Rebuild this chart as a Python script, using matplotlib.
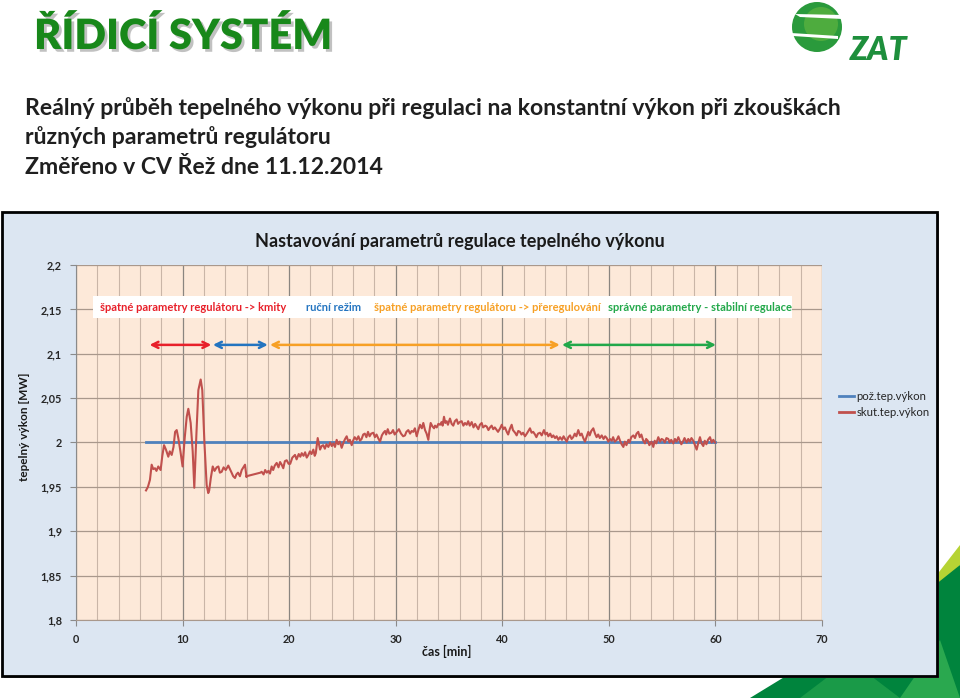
import matplotlib
matplotlib.use('Agg')
import matplotlib.pyplot as plt
import matplotlib.patheffects as pe
from matplotlib.patches import Rectangle, Circle, Polygon
from matplotlib.lines import Line2D
from matplotlib.ticker import FuncFormatter, MultipleLocator

plt.rcParams['font.family'] = ['Lato', 'DejaVu Sans']

# ---- data ----
# measured heat output [MW] vs time [min], split by test phase
osc_phase = [(6.57, 1.946), (6.75, 1.950), (6.94, 1.958), (7.1, 1.975), (7.25, 1.970),
             (7.41, 1.971), (7.55, 1.968), (7.72, 1.973), (7.94, 1.969), (8.1, 1.985),
             (8.26, 1.997), (8.44, 1.992), (8.66, 1.984), (8.8, 1.990), (8.98, 1.986),
             (9.15, 1.995), (9.3, 2.012), (9.45, 2.014), (9.6, 2.005), (9.8, 1.990),
             (10.0, 1.973), (10.2, 2.005), (10.39, 2.029), (10.54, 2.038), (10.76, 2.022),
             (10.95, 1.990), (11.1, 1.949), (11.3, 2.010), (11.48, 2.059), (11.7, 2.071),
             (11.85, 2.059), (12.05, 2.000), (12.26, 1.952), (12.41, 1.943), (12.5, 1.946),
             (12.65, 1.960), (12.83, 1.973), (13.0, 1.968), (13.2, 1.972), (13.36, 1.973),
             (13.5, 1.966), (13.67, 1.967), (13.85, 1.972), (14.05, 1.969), (14.29, 1.974),
             (14.45, 1.970), (14.6, 1.966), (14.75, 1.962), (14.92, 1.960), (15.05, 1.964),
             (15.2, 1.966), (15.38, 1.962), (15.55, 1.969), (15.7, 1.972), (15.86, 1.975),
             (16.0, 1.961)]
manual_phase = [(16.0, 1.962), (17.3, 1.966)]
overshoot_phase = [(17.42, 1.967), (17.6, 1.964), (17.75, 1.969), (17.9, 1.966), (18.05, 1.968),
                   (18.2, 1.965), (18.36, 1.973), (18.5, 1.969), (18.65, 1.974), (18.83, 1.977),
                   (19.0, 1.972), (19.15, 1.978), (19.3, 1.975), (19.45, 1.971), (19.6, 1.979),
                   (19.77, 1.980), (19.95, 1.976), (20.1, 1.976), (20.3, 1.983), (20.55, 1.986),
                   (20.7, 1.981), (20.9, 1.987), (21.05, 1.984), (21.18, 1.988), (21.35, 1.985),
                   (21.5, 1.989), (21.65, 1.983), (21.8, 1.986), (21.95, 1.990), (22.1, 1.987),
                   (22.27, 1.992), (22.4, 1.985), (22.5, 1.988), (22.68, 2.005), (22.8, 1.998),
                   (22.9, 1.992), (23.05, 1.996), (23.2, 1.997), (23.35, 1.993), (23.5, 1.998),
                   (23.68, 1.995), (23.85, 2.000), (24.0, 1.996), (24.15, 1.999), (24.3, 1.995),
                   (24.46, 2.003), (24.6, 1.998), (24.75, 2.001), (24.93, 1.994), (25.1, 2.000),
                   (25.25, 2.004), (25.4, 2.007), (25.55, 2.001), (25.7, 2.003), (25.87, 1.997),
                   (26.0, 2.002), (26.15, 2.006), (26.34, 2.003), (26.5, 2.007), (26.65, 2.002),
                   (26.8, 2.004), (26.95, 2.009), (27.1, 2.010), (27.25, 2.006), (27.4, 2.012),
                   (27.55, 2.007), (27.7, 2.010), (27.9, 2.011), (28.05, 2.006), (28.2, 2.009),
                   (28.35, 2.005), (28.53, 2.001), (28.7, 2.008), (28.85, 2.011), (29.0, 2.013),
                   (29.1, 2.009), (29.25, 2.015), (29.4, 2.010), (29.6, 2.011), (29.75, 2.014),
                   (29.9, 2.009), (30.1, 2.012), (30.3, 2.015), (30.5, 2.010), (30.7, 2.007),
                   (30.87, 2.008), (31.0, 2.012), (31.18, 2.014), (31.35, 2.010), (31.5, 2.013),
                   (31.65, 2.012), (31.8, 2.016), (31.97, 2.007), (32.1, 2.013), (32.28, 2.020),
                   (32.45, 2.016), (32.59, 2.022), (32.75, 2.014), (32.9, 2.010), (33.06, 2.003),
                   (33.15, 2.012), (33.28, 2.022), (33.45, 2.018), (33.6, 2.016), (33.69, 2.019),
                   (33.85, 2.017), (34.0, 2.021), (34.16, 2.020), (34.3, 2.023), (34.4, 2.019),
                   (34.53, 2.029), (34.65, 2.022), (34.78, 2.024), (34.9, 2.020), (35.09, 2.027),
                   (35.25, 2.021), (35.4, 2.019), (35.55, 2.024), (35.72, 2.026), (35.85, 2.021),
                   (36.0, 2.023), (36.19, 2.024), (36.35, 2.019), (36.5, 2.022), (36.66, 2.020),
                   (36.8, 2.024), (36.95, 2.019), (37.13, 2.023), (37.3, 2.017), (37.45, 2.021),
                   (37.6, 2.018), (37.75, 2.015), (37.9, 2.020), (38.07, 2.022), (38.2, 2.017),
                   (38.4, 2.019), (38.54, 2.018), (38.7, 2.014), (38.85, 2.017), (39.0, 2.019),
                   (39.15, 2.015), (39.3, 2.017), (39.48, 2.014), (39.6, 2.012), (39.8, 2.016),
                   (39.95, 2.020), (40.1, 2.015), (40.25, 2.017), (40.42, 2.012), (40.55, 2.009),
                   (40.7, 2.015), (40.88, 2.020), (41.0, 2.014), (41.2, 2.011), (41.35, 2.008),
                   (41.5, 2.013), (41.66, 2.012), (41.8, 2.009), (41.95, 2.011), (42.13, 2.007),
                   (42.3, 2.010), (42.45, 2.013), (42.6, 2.016), (42.75, 2.011), (42.9, 2.012),
                   (43.07, 2.009), (43.2, 2.006), (43.35, 2.010), (43.54, 2.011), (43.7, 2.008),
                   (43.91, 2.014), (44.05, 2.009), (44.2, 2.011), (44.32, 2.007), (44.5, 2.010),
                   (44.65, 2.006), (44.79, 2.008), (44.95, 2.005), (45.1, 2.007), (45.26, 2.003)]
stable_phase = [(45.42, 2.006), (45.6, 2.003), (45.75, 2.007), (45.89, 2.004), (46.05, 2.001),
                (46.2, 2.006), (46.36, 2.008), (46.5, 2.004), (46.65, 2.006), (46.8, 2.010),
                (46.95, 2.007), (47.13, 2.014), (47.3, 2.008), (47.45, 2.010), (47.6, 2.005),
                (47.76, 2.001), (47.9, 2.006), (48.07, 2.012), (48.2, 2.008), (48.35, 2.013),
                (48.54, 2.016), (48.7, 2.010), (48.85, 2.006), (49.0, 2.009), (49.15, 2.005),
                (49.33, 2.008), (49.5, 2.004), (49.65, 2.007), (49.8, 2.005), (49.95, 2.001),
                (50.1, 2.004), (50.27, 2.002), (50.4, 2.006), (50.55, 2.001), (50.74, 2.003),
                (50.9, 2.007), (51.05, 2.002), (51.2, 1.998), (51.36, 1.995), (51.5, 2.001),
                (51.65, 1.997), (51.83, 2.003), (51.95, 2.000), (52.1, 2.006), (52.3, 2.008),
                (52.45, 2.005), (52.6, 2.010), (52.76, 2.012), (52.9, 2.006), (53.05, 2.009),
                (53.2, 2.003), (53.39, 1.999), (53.5, 2.004), (53.65, 2.002), (53.8, 1.997),
                (54.0, 2.001), (54.17, 1.995), (54.3, 2.002), (54.45, 1.999), (54.64, 2.006),
                (54.8, 2.001), (54.95, 2.004), (55.1, 2.003), (55.25, 2.000), (55.4, 2.005),
                (55.58, 2.004), (55.7, 2.000), (55.85, 2.003), (56.05, 1.999), (56.2, 2.004),
                (56.35, 2.001), (56.52, 2.006), (56.65, 2.002), (56.8, 1.998), (56.99, 2.002),
                (57.1, 2.005), (57.3, 2.000), (57.45, 2.004), (57.6, 2.001), (57.75, 2.005),
                (57.92, 2.002), (58.05, 1.998), (58.24, 1.992), (58.4, 2.000), (58.55, 2.006),
                (58.7, 1.999), (58.86, 1.996), (59.0, 2.002), (59.15, 1.998), (59.3, 2.003),
                (59.49, 2.006), (59.65, 2.000), (59.8, 2.003), (59.96, 2.000)]

setpoint_t = [6.6, 60.0]
setpoint_p = [2.0, 2.0]

phase_labels = ['špatné parametry regulátoru -> kmity', 'ruční režim',
                'špatné parametry regulátoru -> přeregulování',
                'správné parametry - stabilní regulace']
phase_start = [6.9, 12.85, 18.2, 45.6]
phase_end = [12.7, 18.0, 45.4, 60.05]
phase_colors = ['#e8202a', '#2374c0', '#f7a025', '#22a84a']
arrow_level = 2.11

series_names = ['pož.tep.výkon', 'skut.tep.výkon']

measured = osc_phase + manual_phase + overshoot_phase + stable_phase
meas_t = [t for t, _ in measured]
meas_p = [p for _, p in measured]

W, H = 960, 698
fig = plt.figure(figsize=(9.6, 6.98), dpi=100)

# background layer in pixel coordinates (slide)
bg = fig.add_axes([0, 0, 1, 1])
bg.set_xlim(0, W)
bg.set_ylim(H, 0)
bg.axis('off')

# decoration bottom right
bg.add_patch(Polygon([(925, 590), (960, 545), (960, 565), (935, 595)], color='#b6d334', lw=0))
bg.add_patch(Polygon([(750, 698), (935, 585), (960, 565), (960, 698)], color='#00843d', lw=0))
bg.add_patch(Polygon([(800, 698), (850, 660), (900, 698)], color='#1a9a48', lw=0))
bg.add_patch(Polygon([(900, 698), (940, 640), (960, 698)], color='#2aa84f', lw=0))

# chart frame
bg.add_patch(Rectangle((4, 214), 935, 464, facecolor='#7f7f7f', lw=0))
bg.add_patch(Rectangle((2, 212), 935, 464, facecolor='#dce6f2', edgecolor='black', lw=2))

# slide title
bg.text(34, 49, 'ŘÍDICÍ SYSTÉM', fontsize=30, fontweight='heavy', color='#18881a',
        va='baseline', ha='left',
        path_effects=[pe.withSimplePatchShadow(offset=(2, -2), shadow_rgbFace='#999999', alpha=0.6)])
sub_lines = ['Reálný průběh tepelného výkonu při regulaci na konstantní výkon při zkouškách',
             'různých parametrů regulátoru',
             'Změřeno v CV Řež dne 11.12.2014']
for i, line in enumerate(sub_lines):
    bg.text(25, 115 + i * 29.5, line, fontsize=16.6, fontweight='bold', color='#1f1f1f',
            va='baseline', ha='left')

# logo
bg.add_patch(Circle((817, 27), 25, facecolor='#2a9a3c', lw=0))
bg.add_patch(Circle((821, 24), 17, facecolor='#7cc242', lw=0, alpha=0.45))
bg.add_patch(Polygon([(795, 14), (843, 15), (843, 19), (800, 17)], color='white', lw=0))
bg.add_patch(Polygon([(791, 33), (838, 36), (838, 39), (793, 36)], color='white', lw=0))
bg.text(850, 60, 'ZAT', fontsize=23, fontweight='heavy', style='italic', color='#1e8f3c',
        va='baseline', ha='left')

# chart texts
bg.text(460, 247, 'Nastavování parametrů regulace tepelného výkonu', fontsize=13,
        fontweight='bold', color='#1a1a1a', ha='center', va='baseline')
bg.text(25, 427, 'tepelný výkon [MW]', fontsize=8.5, fontweight='bold', color='#1a1a1a',
        rotation=90, ha='center', va='center')
bg.text(447, 651, 'čas [min]', fontsize=9, fontweight='bold', color='#1a1a1a',
        ha='center', va='center')

# plot area
ax = fig.add_axes([76 / W, 1 - 620 / H, 746 / W, 355 / H])
ax.set_facecolor('#fde9d9')
ax.set_xlim(0, 70)
ax.set_ylim(1.8, 2.2)
ax.xaxis.set_major_locator(MultipleLocator(10))
ax.xaxis.set_minor_locator(MultipleLocator(2))
ax.yaxis.set_major_locator(MultipleLocator(0.05))
ax.grid(which='minor', axis='x', color='#c9b5a7', lw=0.8)
ax.grid(which='major', axis='x', color='#8a8580', lw=0.9)
ax.grid(which='major', axis='y', color='#a9988c', lw=0.9)
ax.set_axisbelow(True)
for s in ['top', 'right']:
    ax.spines[s].set_visible(False)
ax.spines['left'].set_color('#8a8a8a')
ax.spines['bottom'].set_color('#a9988c')
ax.yaxis.set_major_formatter(FuncFormatter(lambda v, _: f'{v:.2f}'.rstrip('0').rstrip('.').replace('.', ',')))
ax.tick_params(axis='both', which='major', labelsize=7.8, length=4, color='#8a8a8a',
               labelcolor='#262626', pad=6)
ax.tick_params(axis='x', which='minor', length=0)
for lab in ax.get_xticklabels() + ax.get_yticklabels():
    lab.set_fontweight('bold')

ax.plot(setpoint_t, setpoint_p, color='#4f81bd', lw=2.0, label=series_names[0])
ax.plot(meas_t, meas_p, color='#c0504d', lw=1.5, label=series_names[1])

# phase annotations
ax.add_patch(Rectangle((1.6, 2.1405), 65.6, 0.0245, facecolor='white', lw=0, zorder=4))
label_x = [2.25, 21.6, 28.0, 49.9]
for lbl, x0, c in zip(phase_labels, label_x, phase_colors):
    ax.text(x0, 2.1525, lbl, color=c, fontsize=8.0, fontweight='bold', va='center',
            ha='left', zorder=5)
for s, e, c in zip(phase_start, phase_end, phase_colors):
    ax.annotate('', xy=(e, arrow_level), xytext=(s, arrow_level),
                arrowprops=dict(arrowstyle='<->', color=c, lw=1.8, shrinkA=0, shrinkB=0,
                                mutation_scale=11))

handles = [Line2D([], [], color='#4f81bd', lw=2), Line2D([], [], color='#c0504d', lw=2)]
fig.legend(handles, series_names, loc='upper left', bbox_to_anchor=(829 / W, 1 - 381 / H),
           frameon=False, fontsize=8.2, handlelength=1.3, handletextpad=0.2,
           labelspacing=0.45, labelcolor='#262626')

fig.savefig('out.png', dpi=100)
